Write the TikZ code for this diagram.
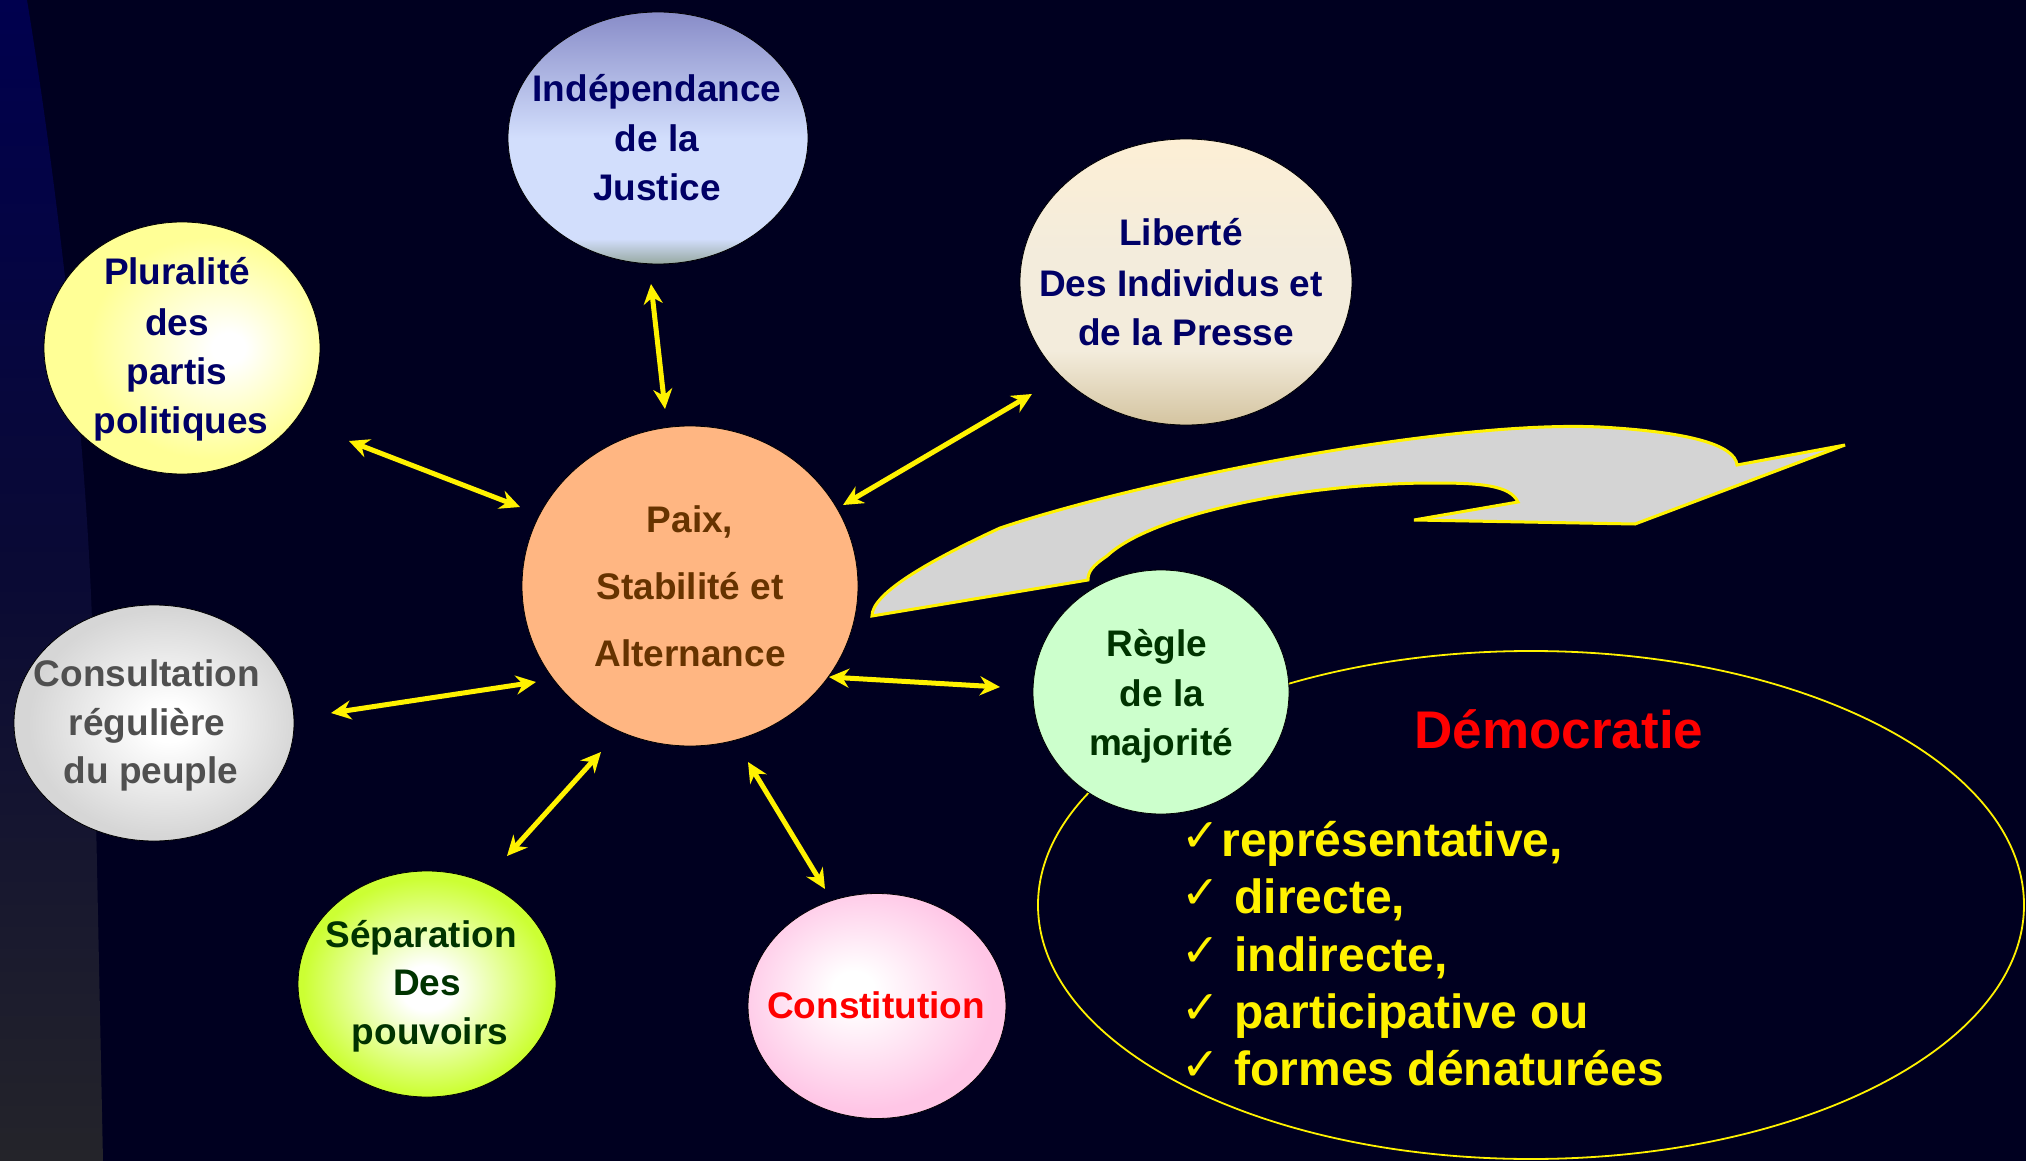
\documentclass[tikz,border=0pt]{standalone}
\usepackage{fontspec}
\setmainfont{Liberation Sans}
\newfontfamily\symfont{DejaVu Sans}
\usetikzlibrary{shapes.geometric,arrows.meta}

\definecolor{bgnavy}{RGB}{0,0,32}
\definecolor{bandtop}{RGB}{0,0,78}
\definecolor{bandmid}{RGB}{10,10,52}
\definecolor{bandbot}{RGB}{36,36,42}
\definecolor{navytext}{RGB}{0,0,102}
\definecolor{browntext}{RGB}{102,51,0}
\definecolor{graytext}{RGB}{80,80,80}
\definecolor{greentext}{RGB}{0,51,0}
\definecolor{peach}{RGB}{255,182,130}
\definecolor{mint}{RGB}{204,255,204}
\definecolor{arrowgray}{RGB}{212,212,212}
\definecolor{itop}{RGB}{136,140,200}
\definecolor{imid}{RGB}{210,222,252}
\definecolor{ibot}{RGB}{150,168,160}
\definecolor{ltop}{RGB}{253,239,213}
\definecolor{lmid}{RGB}{243,236,220}
\definecolor{lbot}{RGB}{212,196,160}
\definecolor{plurY}{RGB}{255,255,150}
\definecolor{consG}{RGB}{214,214,214}
\definecolor{sepG}{RGB}{204,255,51}
\definecolor{conP}{RGB}{255,198,230}

\pgfdeclareverticalshading{indsh}{100bp}{color(0bp)=(ibot); color(25bp)=(ibot); color(30bp)=(imid); color(50bp)=(imid); color(75bp)=(itop); color(100bp)=(itop)}
\pgfdeclareverticalshading{libsh}{100bp}{color(0bp)=(lbot); color(25bp)=(lbot); color(38bp)=(lmid); color(55bp)=(lmid); color(75bp)=(ltop); color(100bp)=(ltop)}
\pgfdeclareradialshading{plursh}{\pgfpoint{9bp}{0bp}}{color(0bp)=(white); color(3bp)=(white); color(22bp)=(plurY); color(50bp)=(plurY)}
\pgfdeclareradialshading{conssh}{\pgfpoint{3bp}{0bp}}{color(0bp)=(white); color(4bp)=(white); color(24bp)=(consG); color(50bp)=(consG)}
\pgfdeclareradialshading{sepsh}{\pgfpoint{0bp}{-1bp}}{color(0bp)=(white); color(5bp)=(white); color(24bp)=(sepG); color(50bp)=(sepG)}
\pgfdeclareradialshading{consti}{\pgfpoint{-5bp}{4bp}}{color(0bp)=(white); color(4bp)=(white); color(25bp)=(conP); color(50bp)=(conP)}

\tikzset{
  bubble/.style={ellipse, inner sep=0pt, draw=black, line width=0.4pt},
  btxt/.style={anchor=base, inner sep=0pt, font=\bfseries\fontsize{18.5}{22}\selectfont},
  link/.style={draw=yellow, line width=2.5pt,
    {Stealth[length=10pt,width=9.5pt]}-{Stealth[length=10pt,width=9.5pt]}},
  bigarrow/.style={fill=arrowgray, draw=yellow, line width=1.5pt, line join=miter},
  ltxt/.style={anchor=base west, inner sep=0pt, text=yellow, font=\bfseries\fontsize{24}{28}\selectfont},
  chk/.style={anchor=base west, inner sep=0pt, text=yellow, font=\symfont\fontsize{23}{26}\selectfont},
}

\begin{document}
\begin{tikzpicture}[x=0.5pt,y=-0.5pt]
\useasboundingbox (0,0) rectangle (2026,1161);
\fill[bgnavy] (0,0) rectangle (2026,1161);
\shade[top color=bandtop, bottom color=bandbot, middle color=bandmid]
  (0,0) -- (27,0) .. controls (55,170) and (85,420) .. (92,620) -- (103,1161) -- (0,1161) -- cycle;

% big curved arrow
\filldraw[bigarrow] (872,616)
  .. controls (872,595) and (920,565) .. (1000,528)
  .. controls (1150,478) and (1450,420) .. (1600,427)
  .. controls (1690,432) and (1735,445) .. (1737,465)
  -- (1845,445) -- (1635,524) -- (1414,520) -- (1518,502)
  .. controls (1510,485) and (1480,483) .. (1434,483)
  .. controls (1300,483) and (1150,515) .. (1107,556)
  .. controls (1092,566) and (1088,572) .. (1088,580)
  -- cycle;

% Democratie ellipse
\node[ellipse, draw=yellow, line width=0.9pt, minimum width=493pt, minimum height=254pt, inner sep=0pt] (demo) at (1531,905) {};

% bubbles
\node[bubble, minimum width=150pt, minimum height=126pt, shading=indsh] (indep) at (658,138) {};
\node[bubble, minimum width=166pt, minimum height=143pt, shading=libsh] (liberte) at (1186,282) {};
\node[bubble, minimum width=138pt, minimum height=126pt, shading=plursh] (plur) at (182,348) {};
\node[bubble, minimum width=168pt, minimum height=160pt, fill=peach] (paix) at (690,586) {};
\node[bubble, minimum width=140pt, minimum height=118pt, shading=conssh] (consult) at (154,723) {};
\node[bubble, minimum width=129pt, minimum height=113pt, shading=sepsh] (separ) at (427,984) {};
\node[bubble, minimum width=129pt, minimum height=112.5pt, shading=consti] (consti) at (877,1006) {};
\node[bubble, minimum width=128pt, minimum height=122pt, fill=mint] (regle) at (1161,692) {};

% texts
\node[btxt, text=navytext] (indep1) at (657,102) {Indépendance};
\node[btxt, text=navytext] (indep2) at (657,152) {de la};
\node[btxt, text=navytext] (indep3) at (657,200) {Justice};

\node[btxt, text=navytext] (lib1) at (1181,246) {Liberté};
\node[btxt, text=navytext] (lib2) at (1181,296) {Des Individus et};
\node[btxt, text=navytext] (lib3) at (1186,345) {de la Presse};

\node[btxt, text=navytext] (plur1) at (177,285) {Pluralité};
\node[btxt, text=navytext] (plur2) at (177,335) {des};
\node[btxt, text=navytext] (plur3) at (177,384) {partis};
\node[btxt, text=navytext] (plur4) at (181,433) {politiques};

\node[btxt, text=browntext] (paix1) at (690,532) {Paix,};
\node[btxt, text=browntext] (paix2) at (690,599) {Stabilité et};
\node[btxt, text=browntext] (paix3) at (690,666) {Alternance};

\node[btxt, text=graytext] (cons1) at (147,686) {Consultation};
\node[btxt, text=graytext] (cons2) at (147,735) {régulière};
\node[btxt, text=graytext] (cons3) at (151,783) {du peuple};

\node[btxt, text=greentext] (sep1) at (421,947) {Séparation};
\node[btxt, text=greentext] (sep2) at (427,995) {Des};
\node[btxt, text=greentext] (sep3) at (430,1044) {pouvoirs};

\node[btxt, text=red] (const1) at (876,1018) {Constitution};

\node[btxt, text=greentext] (reg1) at (1157,656) {Règle};
\node[btxt, text=greentext] (reg2) at (1162,706) {de la};
\node[btxt, text=greentext] (reg3) at (1161,755) {majorité};

\node[anchor=base, inner sep=0pt, text=red, font=\bfseries\fontsize{26.5}{30}\selectfont] (demotitle) at (1559,748) {Démocratie};

\node[chk] (c1) at (1181,851) {✓};
\node[ltxt] (l1) at (1221,856) {représentative,};
\node[chk] (c2) at (1181,908) {✓};
\node[ltxt] (l2) at (1234,913) {directe,};
\node[chk] (c3) at (1181,966) {✓};
\node[ltxt] (l3) at (1234,971) {indirecte,};
\node[chk] (c4) at (1181,1023) {✓};
\node[ltxt] (l4) at (1234,1028) {participative ou};
\node[chk] (c5) at (1181,1080) {✓};
\node[ltxt] (l5) at (1234,1085) {formes dénaturées};

% connectors
\coordinate (a1s) at (651,284); \coordinate (a1e) at (665,409);
\coordinate (a2s) at (1032,394); \coordinate (a2e) at (843,505);
\coordinate (a3s) at (349,441); \coordinate (a3e) at (520,507);
\coordinate (a4s) at (331,713); \coordinate (a4e) at (536,682);
\coordinate (a5s) at (507,856); \coordinate (a5e) at (601,752);
\coordinate (a6s) at (748,762); \coordinate (a6e) at (825,889);
\coordinate (a7s) at (829,677); \coordinate (a7e) at (1000,687);
\draw[link] (a1s) -- (a1e);
\draw[link] (a2s) -- (a2e);
\draw[link] (a3s) -- (a3e);
\draw[link] (a4s) -- (a4e);
\draw[link] (a5s) -- (a5e);
\draw[link] (a6s) -- (a6e);
\draw[link] (a7s) -- (a7e);
\end{tikzpicture}
\end{document}
